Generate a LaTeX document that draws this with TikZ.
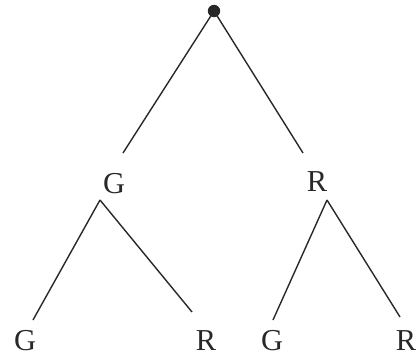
\documentclass[tikz,border=0pt]{standalone}
\usepackage{fontspec}
\setmainfont{Liberation Serif}
\usepackage{tikz}
\usetikzlibrary{calc,positioning}
\definecolor{inkgray}{RGB}{40,40,40}

\begin{document}
\begin{tikzpicture}[x=0.5pt,y=-0.5pt]
  \tikzset{
    lbl/.style={inner sep=0pt,font=\fontsize{15.2}{17}\selectfont,text=inkgray},
    dotnode/.style={circle,fill=inkgray,minimum size=6.2pt,inner sep=0pt},
    branch/.style={draw=inkgray,line width=0.7pt},
  }
  \useasboundingbox (0,0) rectangle (416,356);

  % root and labels
  \node[dotnode] (root) at (214,11) {};
  \node[lbl] (g1) at (114,184) {G};
  \node[lbl] (r1) at (317,182) {R};
  \node[lbl] (gg) at (25,341) {G};
  \node[lbl] (gr) at (206,341) {R};
  \node[lbl] (rg) at (272,341) {G};
  \node[lbl] (rr) at (406,341) {R};

  % free ends of the branches
  \coordinate (e1) at (123,153);
  \coordinate (e2) at (303,153);
  \coordinate (a1) at (100,200);
  \coordinate (a2) at (327,200);
  \coordinate (e3) at (33,320);
  \coordinate (e4) at (192,312);
  \coordinate (e5) at (273,320);
  \coordinate (e6) at (400,317);

  \draw[branch] (root.center) -- (e1) (root.center) -- (e2);
  \draw[branch] (a1) -- (e3) (a1) -- (e4);
  \draw[branch] (a2) -- (e5) (a2) -- (e6);
\end{tikzpicture}
\end{document}
